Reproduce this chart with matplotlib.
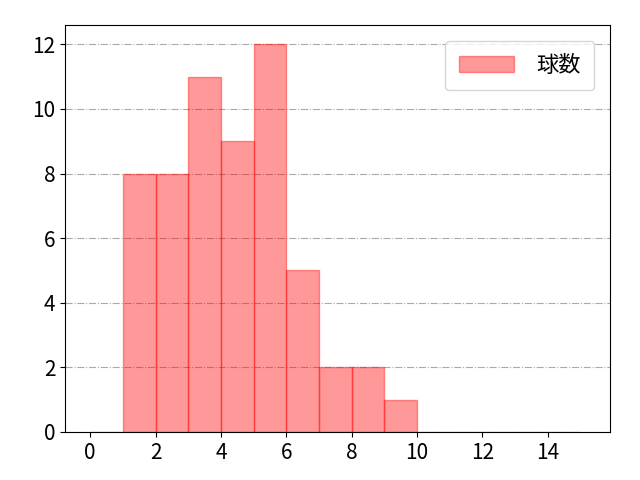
import numpy as np
import matplotlib
matplotlib.use('Agg')
import matplotlib.pyplot as plt

plt.rcParams['font.family'] = ['Noto Sans CJK JP', 'DejaVu Sans']
plt.rcParams['font.size'] = 15

# histogram bins and counts
bin_edges = list(range(0, 16))
counts = [0, 8, 8, 11, 9, 12, 5, 2, 2, 1, 0, 0, 0, 0, 0]

fig, ax = plt.subplots(figsize=(6.4, 4.8), dpi=100)
ax.hist(bin_edges[:-1], bins=bin_edges, weights=counts,
        color=(1, 0, 0, 0.4), edgecolor=(1, 0, 0, 0.4), linewidth=1, label='球数')
ax.grid(axis='y', linestyle='-.', color='#aaaaaa', linewidth=0.8)
ax.set_axisbelow(True)
ax.set_xlim(-0.76, 15.9)
ax.set_xticks(range(0, 16, 2))
ax.legend(loc='upper right', handlelength=2.5, handletextpad=1.0,
          borderpad=0.6, borderaxespad=0.7, fontsize=16)
fig.subplots_adjust(left=0.102, right=0.953, top=0.948, bottom=0.1)
fig.savefig('out.png')
